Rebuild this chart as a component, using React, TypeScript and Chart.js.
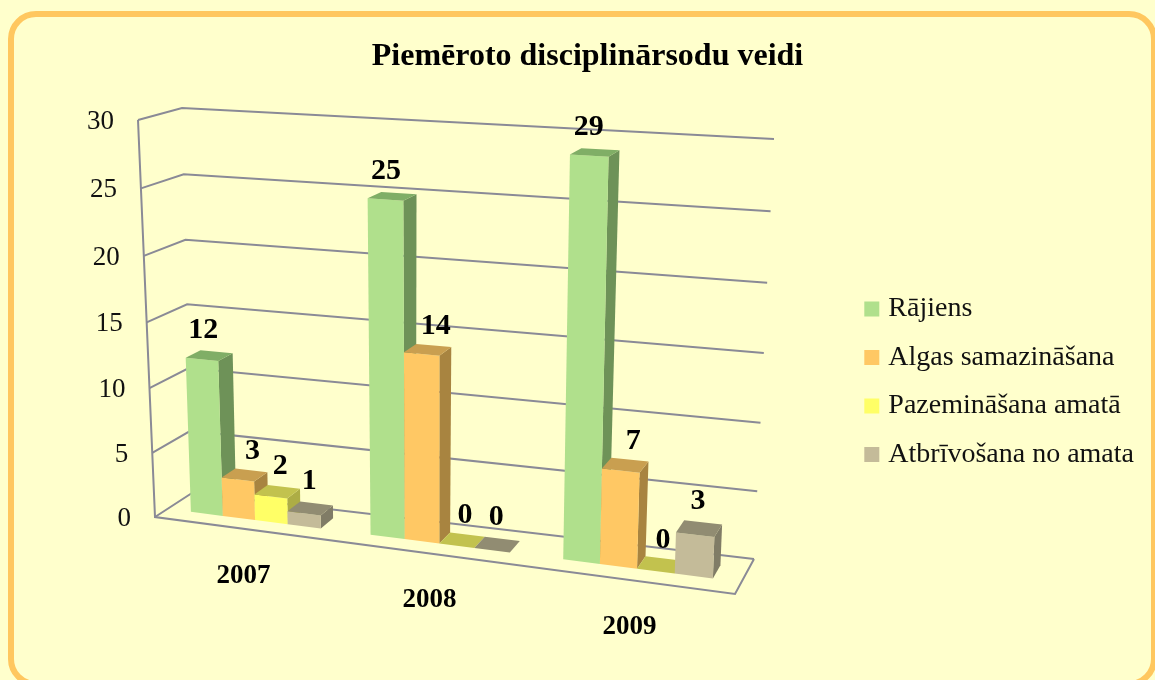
import React, { useEffect, useRef } from "react";
import { Chart, registerables } from "chart.js";

Chart.register(...registerables);

const titleText = "Piemēroto disciplinārsodu veidi";
const categories = ["2007", "2008", "2009"];
const rajiens = [12, 25, 29];
const algasSamazinasana = [3, 14, 7];
const pazeminasanaAmata = [2, 0, 0];
const atbrivosanaNoAmata = [1, 0, 3];

const seriesNames = ["Rājiens", "Algas samazināšana", "Pazemināšana amatā", "Atbrīvošana no amata"];
const frontColors = ["#B0E08C", "#FFC864", "#FFFF66", "#C4BB99"];
const topColors = ["#80AE66", "#C99F50", "#C2C24E", "#918C72"];
const sideColors = ["#6E9258", "#A88440", "#ADAD45", "#807C66"];
const labelShiftX = [-6, 8, 3, -1];
const labelShiftY = [-25, -24, -25, -27];

const FONT = '"Liberation Serif", serif';
const LINE = "#8A8A96";

// Frame of the 3D box on the page: [x, y] of its corners. f/b = front/back, l/r = left/right, b/t = bottom/top
const FRAME = {
  flb: [155, 517], frb: [735, 594],
  blb: [192, 493], brb: [754, 559],
  flt: [138, 120], frt: [750, 157],
  blt: [182, 108], brt: [774, 139],
};
const PERSP_U = 1.112;
const PERSP_V = 1.04;
const Z_FRONT = 0.34;
const Z_BACK = 0.72;

const lerp = (a: number, b: number, t: number) => a + (b - a) * t;
const lerpP = (a: number[], b: number[], t: number) => [lerp(a[0], b[0], t), lerp(a[1], b[1], t)];

function project(u: number, v: number, z: number) {
  const uu = u / (PERSP_U - (PERSP_U - 1) * u);
  const vv = v / (PERSP_V - (PERSP_V - 1) * v);
  const fb = lerpP(FRAME.flb, FRAME.frb, uu);
  const ft = lerpP(FRAME.flt, FRAME.frt, uu);
  const bb = lerpP(FRAME.blb, FRAME.brb, uu);
  const bt = lerpP(FRAME.blt, FRAME.brt, uu);
  return lerpP(lerpP(fb, ft, vv), lerpP(bb, bt, vv), z);
}

function poly(ctx: CanvasRenderingContext2D, pts: number[][], fill: string) {
  ctx.beginPath();
  pts.forEach((p, i) => (i ? ctx.lineTo(p[0], p[1]) : ctx.moveTo(p[0], p[1])));
  ctx.closePath();
  ctx.fillStyle = fill;
  ctx.fill();
}

function seg(ctx: CanvasRenderingContext2D, pts: number[][]) {
  ctx.beginPath();
  pts.forEach((p, i) => (i ? ctx.lineTo(p[0], p[1]) : ctx.moveTo(p[0], p[1])));
  ctx.stroke();
}

const perspectivePlugin = {
  id: "perspective3d",
  beforeDatasetsDraw(chart: any) {
    const { ctx, chartArea: a, scales } = chart;
    const yScale = scales.y;
    const xScale = scales.x;
    const U = (x: number) => (x - a.left) / (a.right - a.left);
    const V = (y: number) => (a.bottom - y) / (a.bottom - a.top);
    ctx.save();

    // walls and floor
    ctx.strokeStyle = LINE;
    ctx.lineWidth = 2;
    ctx.lineJoin = "miter";
    seg(ctx, [project(0, 1, 0), project(0, 0, 0), project(1, 0, 0), project(1, 0, 1)]);
    yScale.ticks.forEach((t: any) => {
      const v = V(yScale.getPixelForValue(t.value));
      seg(ctx, [project(0, v, 0), project(0, v, 1), project(1, v, 1)]);
    });

    // value axis labels
    ctx.fillStyle = "#111";
    ctx.font = `27px ${FONT}`;
    ctx.textAlign = "right";
    ctx.textBaseline = "middle";
    yScale.ticks.forEach((t: any) => {
      const p = project(0, V(yScale.getPixelForValue(t.value)), 0);
      ctx.fillText(t.label, p[0] - 24, p[1] + 2);
    });

    // category labels
    ctx.fillStyle = "#000";
    ctx.font = `bold 27px ${FONT}`;
    ctx.textAlign = "center";
    categories.forEach((c, i) => {
      const p = project(U(xScale.getPixelForValue(i)), 0, 0);
      ctx.fillText(c, p[0], p[1] + 47);
    });

    // bars, left to right so that each front face covers the side of the previous one
    const labels: { text: string; x: number; y: number }[] = [];
    categories.forEach((_, i) => {
      chart.data.datasets.forEach((ds: any, d: number) => {
        const bar = chart.getDatasetMeta(d).data[i];
        const u0 = U(bar.x - bar.width / 2);
        const u1 = U(bar.x + bar.width / 2);
        const v = V(bar.y);
        const v0 = V(bar.base);
        const P = (u: number, vv: number, z: number) => project(u, vv, z);
        if (v > v0) {
          poly(ctx, [P(u1, v0, Z_FRONT), P(u1, v0, Z_BACK), P(u1, v, Z_BACK), P(u1, v, Z_FRONT)], sideColors[d]);
          poly(ctx, [P(u0, v0, Z_FRONT), P(u1, v0, Z_FRONT), P(u1, v, Z_FRONT), P(u0, v, Z_FRONT)], ds.backgroundColor);
        }
        poly(ctx, [P(u0, v, Z_FRONT), P(u1, v, Z_FRONT), P(u1, v, Z_BACK), P(u0, v, Z_BACK)], topColors[d]);
        const c = P((u0 + u1) / 2, v, (Z_FRONT + Z_BACK) / 2);
        labels.push({ text: String(ds.data[i]), x: c[0] + labelShiftX[d], y: c[1] + labelShiftY[d] });
      });
    });

    // value labels
    ctx.fillStyle = "#000";
    ctx.font = `bold 30px ${FONT}`;
    ctx.textAlign = "center";
    ctx.textBaseline = "middle";
    labels.forEach((l) => ctx.fillText(l.text, l.x, l.y));

    ctx.restore();
    return false;
  },
};

export default function App() {
  const ref = useRef<HTMLCanvasElement>(null);
  useEffect(() => {
    document.body.style.margin = "0";
    const seriesValues = [rajiens, algasSamazinasana, pazeminasanaAmata, atbrivosanaNoAmata];
    const chart = new Chart(ref.current as HTMLCanvasElement, {
      type: "bar",
      data: {
        labels: categories,
        datasets: seriesNames.map((name, i) => ({
          label: name,
          data: seriesValues[i],
          backgroundColor: frontColors[i],
          borderWidth: 0,
          categoryPercentage: 0.73,
          barPercentage: 1,
        })),
      },
      options: {
        responsive: false,
        animation: false,
        layout: { padding: { left: 31, right: 11, top: 38, bottom: 0 } },
        plugins: {
          title: {
            display: true,
            text: titleText,
            color: "#000",
            font: { family: FONT, size: 32, weight: "bold" },
            padding: { top: 0, bottom: 7 },
          },
          legend: {
            position: "right",
            fullSize: false,
            labels: {
              color: "#111",
              usePointStyle: true,
              pointStyle: "rect",
              boxWidth: 5,
              boxHeight: 15,
              padding: 20.5,
              font: { family: FONT, size: 28 },
            },
          },
          tooltip: { enabled: false },
        },
        scales: {
          x: { display: false },
          y: {
            display: false,
            min: 0,
            max: 30,
            ticks: { stepSize: 5 },
          },
        },
      },
      plugins: [perspectivePlugin],
    } as any);
    return () => chart.destroy();
  }, []);
  return (
    <div style={{ position: "fixed", inset: 0, background: "#FFFFCC", overflow: "hidden" }}>
      <div
        style={{
          position: "absolute",
          left: 8,
          top: 11,
          width: 1149,
          height: 676,
          boxSizing: "border-box",
          border: "6px solid #FFC75F",
          borderRadius: 28,
          background: "#FFFFCC",
        }}
      />
      <canvas ref={ref} width={1155} height={680} style={{ position: "absolute", left: 0, top: 0 }} />
    </div>
  );
}
